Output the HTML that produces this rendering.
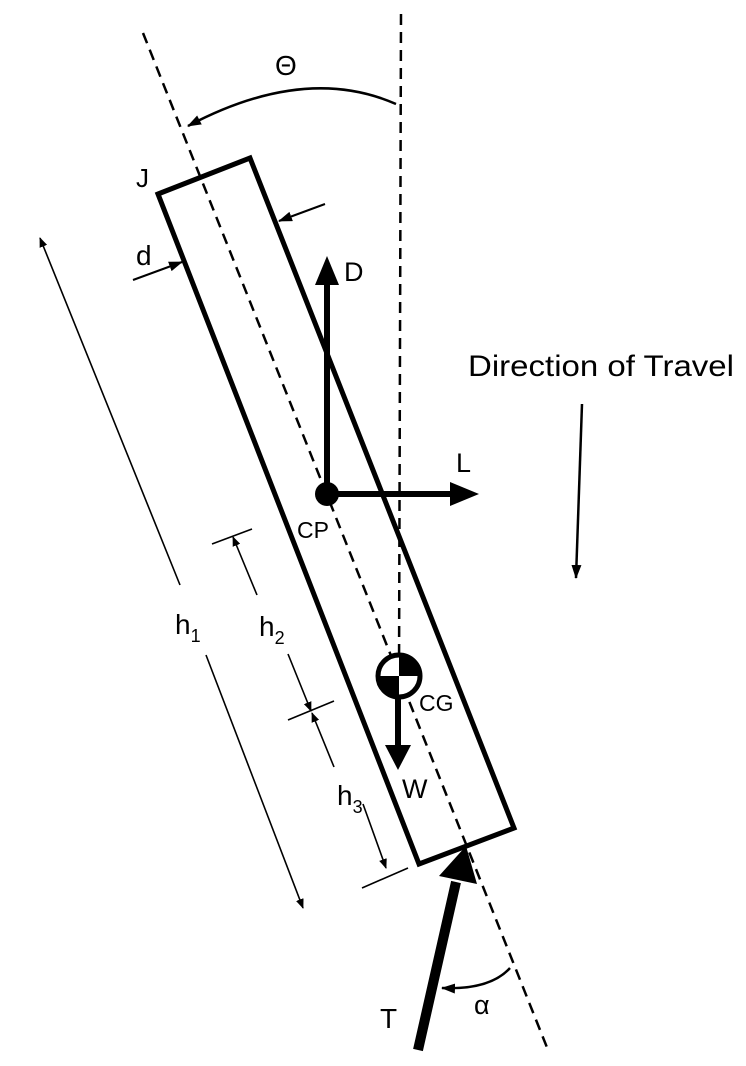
<!DOCTYPE html>
<html><head><meta charset="utf-8"><style>
html,body{margin:0;padding:0;background:#fff;width:746px;height:1066px;overflow:hidden}
svg text{font-family:"Liberation Sans","DejaVu Sans",sans-serif;fill:#000}
</style></head><body>
<svg width="746" height="1066" viewBox="0 0 746 1066" xmlns="http://www.w3.org/2000/svg">
<defs>
<marker id="a" markerWidth="10" markerHeight="8" refX="9" refY="4" orient="auto" markerUnits="userSpaceOnUse"><path d="M0,0 L10,4 L0,8 Z" fill="#000"/></marker>
<marker id="b" markerWidth="14" markerHeight="10" refX="13" refY="5" orient="auto" markerUnits="userSpaceOnUse"><path d="M0,0 L14,5 L0,10 Z" fill="#000"/></marker>
</defs>
<line x1="401" y1="14" x2="399" y2="676" stroke="#000" stroke-width="2.5" stroke-dasharray="11,7"/>
<line x1="143" y1="33" x2="548" y2="1050" stroke="#000" stroke-width="2.5" stroke-dasharray="11,7"/>
<polygon points="158,194 250,158 514,828 419,864" fill="none" stroke="#000" stroke-width="5" stroke-linejoin="miter"/>
<path d="M396,104 Q305,64 188,126" fill="none" stroke="#000" stroke-width="2.5" marker-end="url(#b)"/>
<text x="275" y="75" font-size="28">Θ</text>
<text x="136" y="187" font-size="26">J</text>
<text x="136" y="265" font-size="28">d</text>
<line x1="133" y1="280" x2="182" y2="262" stroke="#000" stroke-width="2" marker-end="url(#b)"/>
<line x1="325" y1="204" x2="279" y2="221" stroke="#000" stroke-width="2" marker-end="url(#b)"/>
<line x1="180" y1="585" x2="40" y2="238" stroke="#000" stroke-width="1.6" marker-end="url(#a)"/>
<line x1="206" y1="655" x2="303" y2="908" stroke="#000" stroke-width="1.6" marker-end="url(#a)"/>
<text x="175" y="634" font-size="28">h<tspan font-size="18" dy="8">1</tspan></text>
<line x1="212" y1="544" x2="252" y2="529" stroke="#000" stroke-width="1.6"/>
<line x1="257" y1="595" x2="233" y2="537" stroke="#000" stroke-width="1.6" marker-end="url(#a)"/>
<line x1="288" y1="654" x2="311" y2="711" stroke="#000" stroke-width="1.6" marker-end="url(#a)"/>
<text x="259" y="636" font-size="28">h<tspan font-size="18" dy="8">2</tspan></text>
<line x1="288" y1="720" x2="334" y2="701" stroke="#000" stroke-width="1.6"/>
<line x1="334" y1="767" x2="312" y2="713" stroke="#000" stroke-width="1.6" marker-end="url(#a)"/>
<line x1="363" y1="804" x2="386" y2="868" stroke="#000" stroke-width="1.6" marker-end="url(#a)"/>
<text x="337" y="805" font-size="28">h<tspan font-size="18" dy="8">3</tspan></text>
<line x1="362" y1="888" x2="408" y2="868" stroke="#000" stroke-width="1.6"/>
<line x1="327" y1="494" x2="327" y2="282" stroke="#000" stroke-width="6"/>
<polygon points="315,285 339,285 327,256" fill="#000"/>
<text x="344" y="281" font-size="27">D</text>
<line x1="327" y1="494" x2="452" y2="494" stroke="#000" stroke-width="6"/>
<polygon points="450,482 450,506 479,494" fill="#000"/>
<text x="456" y="472" font-size="27">L</text>
<circle cx="327" cy="494" r="12" fill="#000"/>
<text x="297" y="538" font-size="23">CP</text>
<line x1="398" y1="690" x2="398" y2="748" stroke="#000" stroke-width="6"/>
<polygon points="385,745 411,745 398,770" fill="#000"/>
<circle cx="399" cy="676" r="21" fill="#fff" stroke="#000" stroke-width="5"/>
<path d="M399,676 L399,655 A21,21 0 0 1 420,676 Z" fill="#000"/>
<path d="M399,676 L399,697 A21,21 0 0 1 378,676 Z" fill="#000"/>
<text x="419" y="711" font-size="23">CG</text>
<text x="402" y="798" font-size="27">W</text>
<text x="468" y="376" font-size="30" textLength="266" lengthAdjust="spacingAndGlyphs">Direction of Travel</text>
<line x1="582" y1="404" x2="576" y2="578" stroke="#000" stroke-width="2.5" marker-end="url(#b)"/>
<line x1="418" y1="1050" x2="456" y2="882" stroke="#000" stroke-width="10"/>
<polygon points="439,876 477,884 466,846" fill="#000"/>
<text x="380" y="1028" font-size="28">T</text>
<path d="M510,968 Q490,990 442,988" fill="none" stroke="#000" stroke-width="2.5" marker-end="url(#b)"/>
<text x="474" y="1014" font-size="27">α</text>
</svg>
</body></html>
